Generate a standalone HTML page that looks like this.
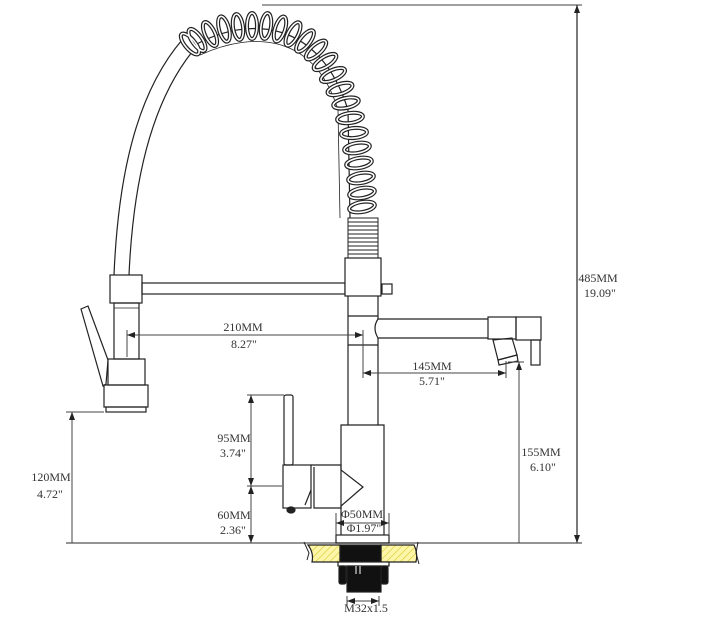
<!DOCTYPE html>
<html><head><meta charset="utf-8"><style>
html,body{margin:0;padding:0;background:#fff;}
svg{display:block}
text{font-family:"Liberation Serif","DejaVu Serif",serif;font-size:12px;fill:#333}
</style></head><body>
<svg width="720" height="635" viewBox="0 0 720 635" xmlns="http://www.w3.org/2000/svg">
<defs>
<pattern id="h" width="5" height="5" patternUnits="userSpaceOnUse" patternTransform="rotate(45)">
<rect width="5" height="5" fill="#fdf6a8"/><line x1="0" y1="0" x2="0" y2="5" stroke="#d8c830" stroke-width="1.2"/>
</pattern>
<marker id="a" markerWidth="8" markerHeight="6" refX="8" refY="3" orient="auto" markerUnits="userSpaceOnUse"><path d="M0,0 L8,3 L0,6z" fill="#222"/></marker>
<marker id="b" markerWidth="8" markerHeight="6" refX="0" refY="3" orient="auto" markerUnits="userSpaceOnUse"><path d="M8,0 L0,3 L8,6z" fill="#222"/></marker>
<g id="coil">
<ellipse cx="190" cy="44" rx="5" ry="13" transform="rotate(-40 190 44)"/>
<ellipse cx="197" cy="40" rx="5" ry="13" transform="rotate(-35 197 40)"/>
<ellipse cx="210" cy="34" rx="5" ry="13" transform="rotate(-25 210 34)"/>
<ellipse cx="224" cy="29" rx="5" ry="13" transform="rotate(-15 224 29)"/>
<ellipse cx="238" cy="27" rx="5" ry="13" transform="rotate(-8 238 27)"/>
<ellipse cx="252" cy="26" rx="5" ry="13" transform="rotate(0 252 26)"/>
<ellipse cx="266" cy="26" rx="5" ry="13" transform="rotate(8 266 26)"/>
<ellipse cx="280" cy="29" rx="5" ry="13" transform="rotate(18 280 29)"/>
<ellipse cx="293" cy="34" rx="5" ry="13" transform="rotate(28 293 34)"/>
<ellipse cx="305" cy="41" rx="5" ry="13" transform="rotate(38 305 41)"/>
<ellipse cx="316" cy="50" rx="5" ry="13" transform="rotate(48 316 50)"/>
<ellipse cx="325" cy="62" rx="5" ry="13" transform="rotate(58 325 62)"/>
<ellipse cx="333" cy="75" rx="5" ry="13" transform="rotate(66 333 75)"/>
<ellipse cx="340" cy="89" rx="5" ry="13" transform="rotate(72 340 89)"/>
<ellipse cx="346" cy="103" rx="5" ry="13" transform="rotate(78 346 103)"/>
<ellipse cx="350" cy="118" rx="5" ry="13" transform="rotate(82 350 118)"/>
<ellipse cx="354" cy="133" rx="5" ry="13" transform="rotate(85 354 133)"/>
<ellipse cx="357" cy="148" rx="5" ry="13" transform="rotate(80 357 148)"/>
<ellipse cx="359" cy="163" rx="5" ry="13" transform="rotate(80 359 163)"/>
<ellipse cx="361" cy="178" rx="5" ry="13" transform="rotate(80 361 178)"/>
<ellipse cx="362" cy="193" rx="5" ry="13" transform="rotate(80 362 193)"/>
<ellipse cx="362" cy="207" rx="5" ry="13" transform="rotate(80 362 207)"/>
</g>
</defs>
<g fill="none" stroke="#222" stroke-width="1.2">
<line x1="262" y1="5" x2="582" y2="5" stroke="#666"/>
<line x1="577" y1="5" x2="577" y2="543" marker-start="url(#b)" marker-end="url(#a)"/>
<line x1="66" y1="543" x2="582" y2="543" stroke="#555"/>
<path d="M114,275 C118,180 135,95 182,40"/>
<path d="M129,275 C133,185 150,105 192,52"/>
<path d="M195,45 C250,15 320,20 348,110 L350,218"/>
<path d="M200,55 C255,30 315,35 338,110 L340,218" stroke-width="0.8"/>
<use href="#coil" stroke="#222" stroke-width="4"/>
<use href="#coil" stroke="#fff" stroke-width="1.6"/>
<g stroke-width="1">
<rect x="348" y="218" width="30" height="40" fill="#fff"/>
<path d="M348,222H378M348,226H378M348,230H378M348,234H378M348,238H378M348,242H378M348,246H378M348,250H378M348,254H378"/>
</g>
<rect x="110" y="275" width="32" height="28" fill="#fff"/>
<rect x="114" y="303" width="25" height="56"/>
<line x1="114" y1="308" x2="139" y2="308" stroke-width="0.8"/>
<rect x="108" y="359" width="37" height="26"/>
<rect x="104" y="385" width="44" height="22"/>
<rect x="106" y="407" width="40" height="5"/>
<polygon points="81,309 88,306 108,360 106,384 103,386"/>
<rect x="142" y="283" width="203" height="11"/>
<rect x="345" y="258" width="36" height="38" fill="#fff"/>
<rect x="382" y="284" width="10" height="10"/>
<path d="M348,296 V425 M378,296 V319 M378,338 V425 M348,316 H378 M348,345 H378"/>
<path d="M378,319 H488 M378,338 H488 M378,319 Q372,328 378,338"/>
<rect x="488" y="317" width="28" height="22"/>
<rect x="516" y="317" width="25" height="23"/>
<rect x="531" y="340" width="9" height="25"/>
<polygon points="493,340 512,338 517,355 498,360"/>
<polygon points="498,360 517,355 518,361 499,365"/>
<path d="M341,535 V425 H384 V535"/>
<rect x="336" y="535" width="53" height="8"/>
<rect x="284" y="395" width="9" height="70" rx="2"/>
<rect x="283" y="465" width="28" height="43"/>
<path d="M311,465 H341 V470 L363,487 L341,506 V508 H314 V467 M314,468 V508"/>
<path d="M311,490 L305,505"/>
<ellipse cx="291" cy="510" rx="4" ry="3" fill="#222"/>
<path d="M308,545 H340 V562 H312 Q314,553 308,545z" fill="url(#h)"/>
<path d="M381,545 H414 Q418,553 416,562 H381z" fill="url(#h)"/>
<rect x="340" y="545" width="41" height="17" fill="#111"/>
<path d="M304,542 L309,553 L307,560 M418,542 L416,553 L419,564" stroke-width="1"/>
<rect x="338" y="562" width="51" height="4" fill="#fff"/>
<rect x="339" y="566" width="7" height="18" fill="#111" rx="2"/>
<rect x="381" y="566" width="7" height="18" fill="#111" rx="2"/>
<rect x="347" y="566" width="34" height="26" fill="#111"/>
<path d="M356,566V574M360,566V574" stroke="#fff" stroke-width="1"/>
</g>
<g fill="none" stroke="#444" stroke-width="1">
<line x1="66" y1="412" x2="104" y2="412"/>
<line x1="72" y1="543" x2="72" y2="412" marker-end="url(#a)"/>
<line x1="127" y1="330" x2="127" y2="357"/>
<line x1="363" y1="330" x2="363" y2="378"/>
<line x1="127" y1="335" x2="363" y2="335" marker-start="url(#b)" marker-end="url(#a)"/>
<line x1="506" y1="361" x2="506" y2="378"/>
<line x1="363" y1="373" x2="506" y2="373" marker-start="url(#b)" marker-end="url(#a)"/>
<line x1="508" y1="362" x2="524" y2="362"/>
<line x1="519" y1="543" x2="519" y2="362" marker-end="url(#a)"/>
<line x1="247" y1="395" x2="284" y2="395"/>
<line x1="247" y1="486" x2="282" y2="486"/>
<line x1="251" y1="395" x2="251" y2="486" marker-start="url(#b)" marker-end="url(#a)"/>
<line x1="251" y1="486" x2="251" y2="543" marker-start="url(#b)" marker-end="url(#a)"/>
<line x1="336" y1="513" x2="336" y2="535"/>
<line x1="389" y1="513" x2="389" y2="535"/>
<line x1="336" y1="523" x2="389" y2="523" marker-start="url(#b)" marker-end="url(#a)"/>
<line x1="347" y1="596" x2="347" y2="606"/>
<line x1="379" y1="596" x2="379" y2="606"/>
<line x1="347" y1="601" x2="379" y2="601" marker-start="url(#b)" marker-end="url(#a)"/>
</g>
<g text-anchor="middle">
<text x="598" y="282">485MM</text><text x="600" y="297">19.09"</text>
<text x="243" y="331">210MM</text><text x="244" y="348">8.27"</text>
<text x="432" y="370">145MM</text><text x="432" y="385">5.71"</text>
<text x="541" y="456">155MM</text><text x="543" y="471">6.10"</text>
<text x="51" y="481">120MM</text><text x="50" y="498">4.72"</text>
<text x="234" y="442">95MM</text><text x="233" y="457">3.74"</text>
<text x="234" y="519">60MM</text><text x="233" y="534">2.36"</text>
<text x="362" y="518">Φ50MM</text><text x="364" y="532">Φ1.97"</text>
<text x="366" y="612">M32x1.5</text>
</g>
</svg>
</body></html>
